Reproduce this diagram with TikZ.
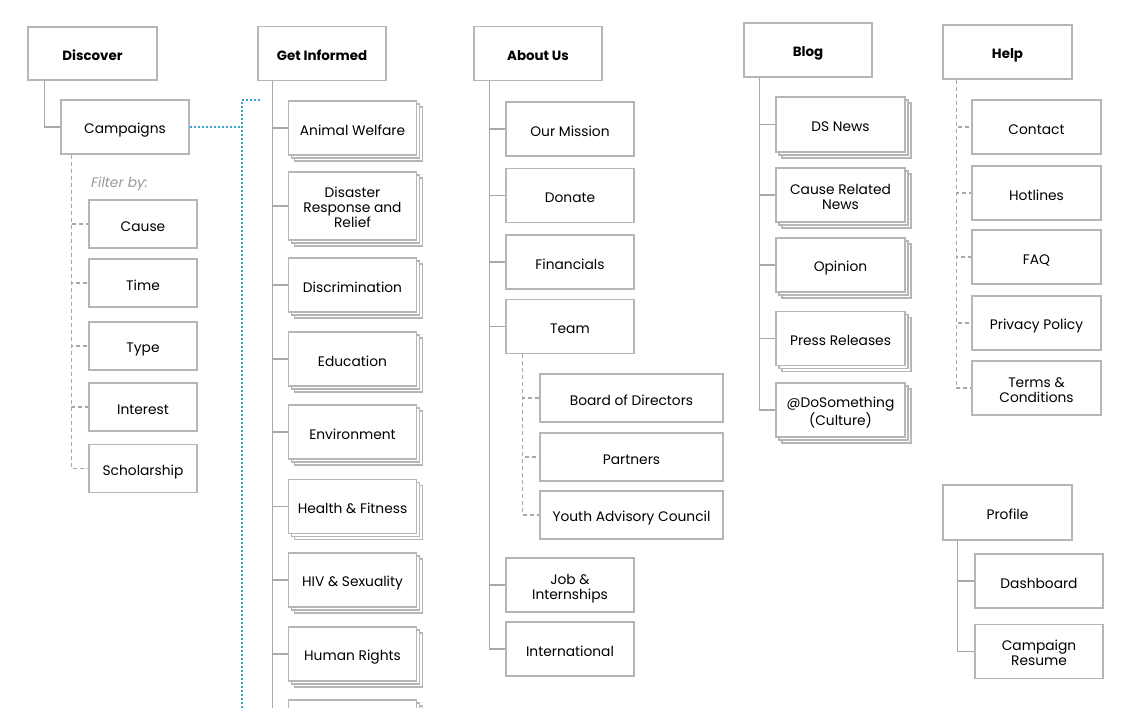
\documentclass[tikz,border=0pt]{standalone}
\usepackage{fontspec}
\setmainfont{Poppins}
\usetikzlibrary{shadows,calc}
\definecolor{bord}{HTML}{B6B6B6}
\definecolor{linec}{HTML}{A8A8A8}
\definecolor{dotblue}{HTML}{3BA3D6}
\definecolor{filtgray}{HTML}{9A9A9A}
\newcommand{\mlines}[1]{\begin{tabular}{@{}c@{}}\rule{0pt}{17.5pt}#1\end{tabular}}
\tikzset{
  box/.style={draw=bord, line width=1.3pt, fill=white, minimum width=128pt, minimum height=54pt,
    align=center, inner sep=2pt, font=\fontsize{13.8}{15}\selectfont, text=black,
    execute at begin node={\rule{0pt}{17pt}}, execute at end node={\rule[-3pt]{0pt}{3pt}}},
  headbox/.style={box, font=\fontsize{13.4}{15}\selectfont\bfseries},
  stackbox/.style={box, double copy shadow={shadow xshift=3pt, shadow yshift=-3pt, draw=bord, fill=white, line width=1.3pt}},
  filtbox/.style={box, minimum width=108pt, minimum height=48pt},
  subbox/.style={box, minimum width=183pt, minimum height=48pt},
  conn/.style={draw=linec, line width=1.3pt},
  dconn/.style={draw=linec, line width=1.2pt, dash pattern=on 4pt off 3pt},
  bluedot/.style={draw=dotblue, line width=2pt, dash pattern=on 2pt off 2pt}
}
\begin{document}
\begin{tikzpicture}[x=1pt,y=-1pt]
\useasboundingbox (0,0) rectangle (1135,707);
\clip (0,0) rectangle (1135,707);
\fill[white] (0,0) rectangle (1135,707);

% Discover
\node[headbox, minimum width=129pt, minimum height=53pt] (disc) at (92.5,53.5) {Discover};
\node[box] (camp) at (125,127) {Campaigns};
\node[anchor=base west, inner sep=0pt, font=\fontsize{13.8}{15}\selectfont\itshape, text=filtgray] (filt) at (91,187) {Filter by:};
\node[filtbox] (cause) at (143,224) {Cause};
\node[filtbox] (time) at (143,283) {Time};
\node[filtbox] (type) at (143,346) {Type};
\node[filtbox] (interest) at (143,407) {Interest};
\node[filtbox] (schol) at (143,468.5) {Scholarship};
\draw[conn] ($(disc.south west)+(17,0)$) |- (camp.west);
\foreach \n in {cause,time,type,interest,schol}
  \draw[dconn] ($(camp.south west)+(11,0)$) |- (\n.west);

% blue dotted link
\coordinate (bturn) at (242,127);
\coordinate (btop) at (242,100);
\coordinate (btopend) at (260,100);
\coordinate (bbot) at (242,712);
\draw[bluedot] (camp.east) -- (bturn);
\draw[bluedot] (btopend) -- (btop) -- (bbot);

% Get Informed
\node[headbox] (gi) at (322,53.5) {Get Informed};
\node[stackbox] (animal) at (352.5,128) {Animal Welfare};
\node[stackbox, minimum height=68pt] (disaster) at (352.5,206) {\mlines{Disaster\\Response and\\Relief}};
\node[stackbox] (discrim) at (352.5,285) {Discrimination};
\node[stackbox] (educ) at (352.5,359) {Education};
\node[stackbox] (envir) at (352.5,432) {Environment};
\node[stackbox] (health) at (352.5,506.5) {Health \& Fitness};
\node[stackbox] (hiv) at (352.5,580) {HIV \& Sexuality};
\node[stackbox] (human) at (352.5,654) {Human Rights};
\node[stackbox] (more) at (352.5,727) {};
\foreach \n in {animal,disaster,discrim,educ,envir,health,hiv,human,more}
  \draw[conn] ($(gi.south west)+(15,0)$) |- (\n.west);

% About Us
\node[headbox] (about) at (538,53.5) {About Us};
\node[box] (mission) at (570,129) {Our Mission};
\node[box] (donate) at (570,195.5) {Donate};
\node[box] (fin) at (570,262) {Financials};
\node[box] (team) at (570,326.5) {Team};
\node[subbox] (board) at (631.5,398) {Board of Directors};
\node[subbox] (partners) at (631.5,457) {Partners};
\node[subbox] (youth) at (631.5,515) {Youth Advisory Council};
\node[box] (job) at (570,585) {\mlines{Job \&\\Internships}};
\node[box] (intl) at (570,649) {International};
\foreach \n in {mission,donate,fin,team,job,intl}
  \draw[conn] ($(about.south west)+(16,0)$) |- (\n.west);
\foreach \n in {board,partners,youth}
  \draw[dconn] ($(team.south west)+(17,0)$) |- (\n.west);

% Blog
\node[headbox] (blog) at (808,50) {Blog};
\node[stackbox, minimum width=129pt, minimum height=55pt] (dsnews) at (840.5,124.5) {DS News};
\node[stackbox, minimum width=129pt] (cause2) at (840.5,195) {\mlines{Cause Related\\News}};
\node[stackbox, minimum width=129pt] (opinion) at (840.5,265) {Opinion};
\node[stackbox, minimum width=129pt] (press) at (840.5,338.5) {Press Releases};
\node[stackbox, minimum width=129pt] (dosome) at (840.5,410) {\mlines{@DoSomething\\(Culture)}};
\foreach \n in {dsnews,cause2,opinion,press,dosome}
  \draw[conn] ($(blog.south west)+(16,0)$) |- (\n.west);

% Help
\node[headbox, minimum width=129pt] (help) at (1007.5,52) {Help};
\node[box, minimum width=129pt] (contact) at (1036.5,127) {Contact};
\node[box, minimum width=129pt] (hotlines) at (1036.5,193) {Hotlines};
\node[box, minimum width=129pt] (faq) at (1036.5,257) {FAQ};
\node[box, minimum width=129pt] (privacy) at (1036.5,323) {Privacy Policy};
\node[box, minimum width=129pt] (terms) at (1036.5,388) {\mlines{Terms \&\\Conditions}};
\foreach \n in {contact,hotlines,faq,privacy,terms}
  \draw[dconn] ($(help.south west)+(14,0)$) |- (\n.west);

% Profile
\node[box, minimum width=129pt, minimum height=55pt] (profile) at (1007.5,512.5) {Profile};
\node[box] (dash) at (1039,581) {Dashboard};
\node[box] (resume) at (1039,651.5) {\mlines{Campaign\\Resume}};
\foreach \n in {dash,resume}
  \draw[conn] ($(profile.south west)+(15,0)$) |- (\n.west);
\end{tikzpicture}
\end{document}
